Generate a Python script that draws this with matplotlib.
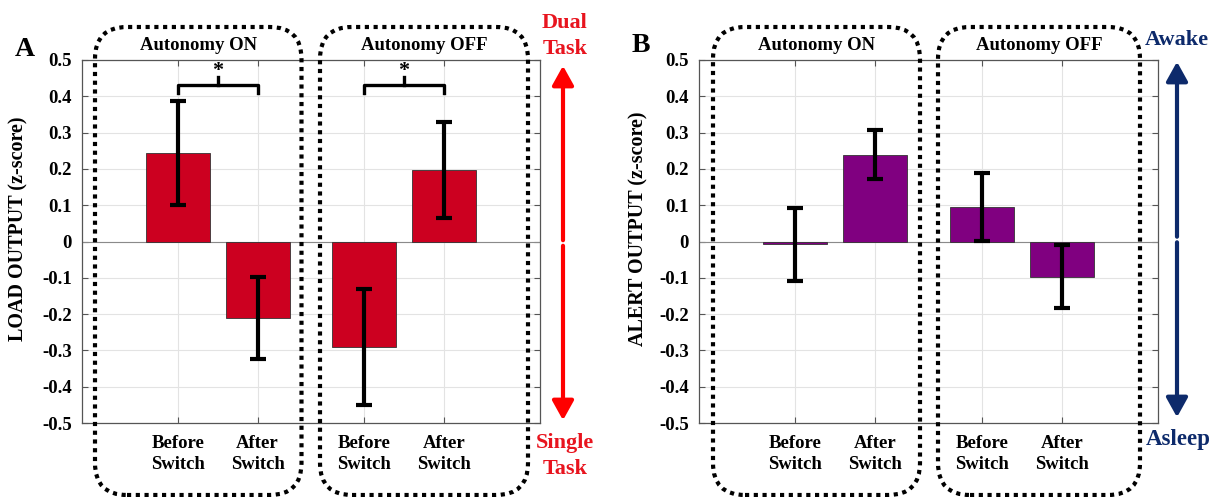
import matplotlib.pyplot as plt
import matplotlib.transforms as mtransforms
from matplotlib.patches import FancyBboxPatch, FancyArrowPatch

plt.rcParams['font.family'] = ['Liberation Serif', 'DejaVu Serif']
plt.rcParams['font.weight'] = 'bold'
plt.rcParams['axes.labelweight'] = 'bold'

conditions = ['Before\nSwitch', 'After\nSwitch', 'Before\nSwitch', 'After\nSwitch']
groups = ['Autonomy ON', 'Autonomy OFF']

load_mean = [0.243, -0.211, -0.290, 0.197]
load_err = [0.143, 0.113, 0.160, 0.133]

alert_mean = [-0.008, 0.239, 0.096, -0.097]
alert_err = [0.101, 0.068, 0.094, 0.087]

yticks = [0.5, 0.4, 0.3, 0.2, 0.1, 0, -0.1, -0.2, -0.3, -0.4, -0.5]

xpos = [1, 2, 3.33, 4.33]
W, H = 1221, 497

fig = plt.figure(figsize=(W / 100, H / 100), dpi=100)
ax_a = fig.add_axes([81.7 / W, 1 - 423 / H, (540 - 81.7) / W, 363 / H])
ax_b = fig.add_axes([698.7 / W, 1 - 423 / H, (1158 - 698.7) / W, 363 / H])


def draw_panel(ax, means, errs, color, ylabel, label_x):
    ax.bar(xpos, means, width=0.8, color=color, edgecolor='#333333', linewidth=0.6, zorder=2)
    ax.errorbar(xpos, means, yerr=errs, fmt='none', ecolor='black', elinewidth=3,
                capsize=5.5, capthick=3, zorder=3)
    ax.set_xlim(-0.2, 5.53)
    ax.set_ylim(-0.5, 0.5)
    ax.set_yticks(yticks)
    ax.set_yticklabels(['0' if v == 0 else f'{v:.1f}' for v in yticks])
    ax.set_xticks(xpos)
    ax.set_xticklabels(conditions, fontsize=13.5, linespacing=1.3)
    ax.tick_params(axis='y', labelsize=13.5, direction='in', length=4, pad=7,
                   right=True, color='#555555')
    ax.tick_params(axis='x', direction='in', length=4, pad=9, top=True, color='#555555')
    ax.grid(True, color='#e3e3e3', linewidth=0.8, zorder=0)
    ax.set_axisbelow(True)
    ax.axhline(0, color='#8a8a8a', linewidth=0.8, zorder=1)
    for s in ax.spines.values():
        s.set_color('#555555')
        s.set_linewidth(0.9)
    ax.set_ylabel(ylabel, fontsize=14.5)
    ax.yaxis.set_label_coords(label_x, 0.535)


draw_panel(ax_a, load_mean, load_err, '#cc0020', 'LOAD OUTPUT (z-score)', -0.117)
draw_panel(ax_b, alert_mean, alert_err, '#800080', 'ALERT OUTPUT (z-score)', -0.110)

# significance brackets (panel A)
for x0, x1 in [(xpos[0], xpos[1]), (xpos[2], xpos[3])]:
    ax_a.plot([x0, x0, x1, x1], [0.408, 0.43, 0.43, 0.408], color='black', lw=2.4,
              solid_joinstyle='round', clip_on=False, zorder=4)
    xm = (x0 + x1) / 2
    ax_a.plot([xm, xm], [0.43, 0.452], color='black', lw=2.4, zorder=4)
    ax_a.text(xm, 0.442, '*', ha='center', va='bottom', fontsize=16, zorder=4)

# dotted rounded group boxes, in figure pixels
ident = mtransforms.IdentityTransform()
boxes = [(95, 301.5), (320, 528), (713, 920), (938, 1140)]
for (xl, xr), label in zip(boxes, groups * 2):
    patch = FancyBboxPatch((xl, H - 495), xr - xl, 495 - 27,
                           boxstyle='round,pad=0,rounding_size=32',
                           transform=ident, fill=False, edgecolor='black',
                           linewidth=3, linestyle=(0, (1, 1.1)), clip_on=False)
    fig.add_artist(patch)
    fig.text((xl + xr) / 2 / W, 1 - 45 / H, label, ha='center', va='center', fontsize=13.5)

fig.text(25 / W, 1 - 50 / H, 'A', ha='center', va='center', fontsize=20)
fig.text(641 / W, 1 - 46 / H, 'B', ha='center', va='center', fontsize=20)

# direction arrows
red = '#ff0000'
navy = '#0d2a6b'
for x, y0, y1, c in [(563, 63, 423, red), (1177, 59, 420, navy)]:
    for yend in (y0, y1):
        arr = FancyArrowPatch((x, H - (y0 + y1) / 2), (x, H - yend), transform=ident,
                              arrowstyle='-|>,head_length=9,head_width=5', color=c,
                              lw=3, mutation_scale=1.3)
        fig.add_artist(arr)

fig.text(565 / W, 1 - 36 / H, 'Dual\nTask', ha='center', va='center', fontsize=16,
         color='#e8141e', linespacing=1.35)
fig.text(565 / W, 1 - 456 / H, 'Single\nTask', ha='center', va='center', fontsize=16,
         color='#e8141e', linespacing=1.35)
fig.text(1177 / W, 1 - 40 / H, 'Awake', ha='center', va='center', fontsize=16, color=navy)
fig.text(1178 / W, 1 - 440 / H, 'Asleep', ha='center', va='center', fontsize=16.5, color=navy)

fig.savefig('out.png', dpi=100)
